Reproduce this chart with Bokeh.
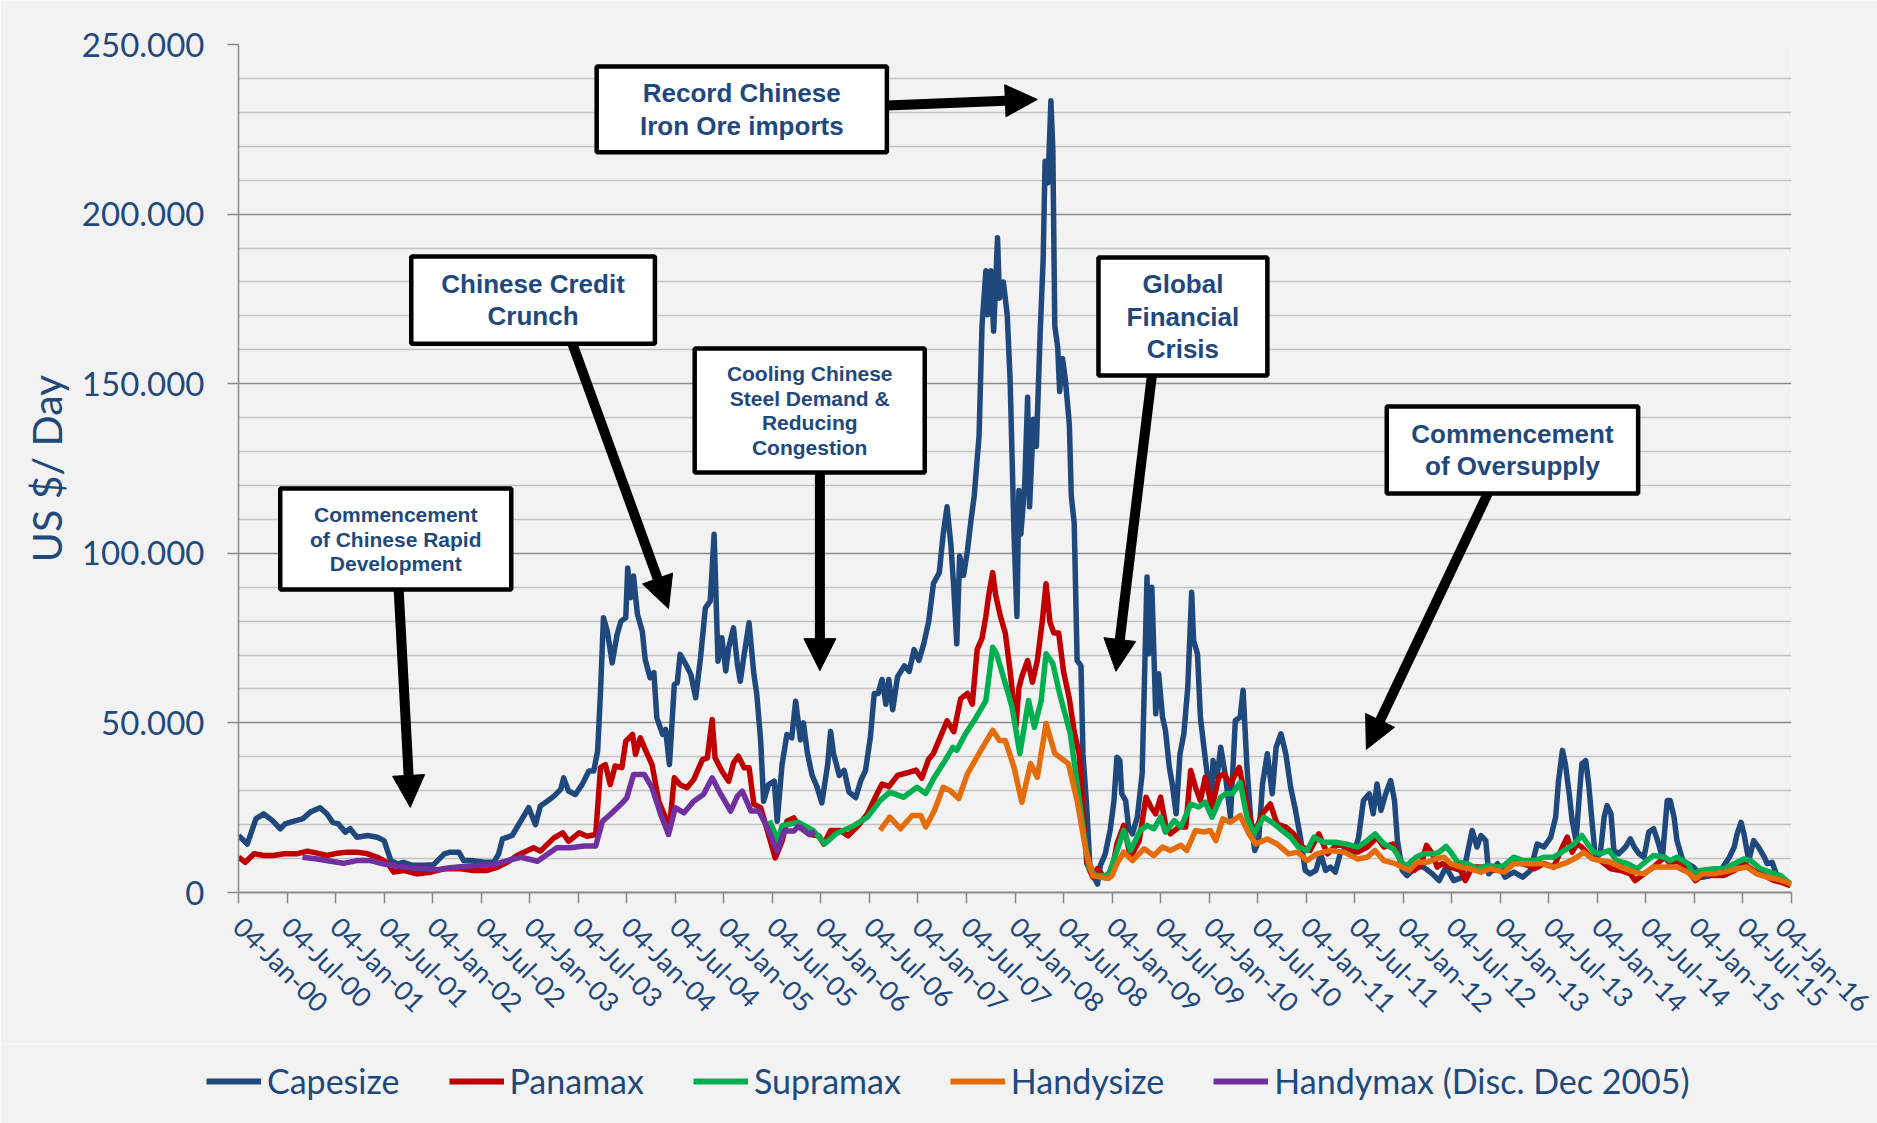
import math
from bokeh.plotting import figure
from bokeh.layouts import column
from bokeh.models import Range1d, FixedTicker, Legend, LegendItem, Arrow, NormalHead, ColumnDataSource
from bokeh.core.properties import value
from bokeh.embed import file_html
from bokeh.resources import INLINE

# ---------------- data (time in decimal years, rates in US$ '000 / day) ----------------
x_tick_labels = ["04-Jan-00", "04-Jul-00", "04-Jan-01", "04-Jul-01", "04-Jan-02", "04-Jul-02",
                 "04-Jan-03", "04-Jul-03", "04-Jan-04", "04-Jul-04", "04-Jan-05", "04-Jul-05",
                 "04-Jan-06", "04-Jul-06", "04-Jan-07", "04-Jul-07", "04-Jan-08", "04-Jul-08",
                 "04-Jan-09", "04-Jul-09", "04-Jan-10", "04-Jul-10", "04-Jan-11", "04-Jul-11",
                 "04-Jan-12", "04-Jul-12", "04-Jan-13", "04-Jul-13", "04-Jan-14", "04-Jul-14",
                 "04-Jan-15", "04-Jul-15", "04-Jan-16"]
y_tick_values = [0, 50000, 100000, 150000, 200000, 250000]
y_tick_labels = ["0", "50.000", "100.000", "150.000", "200.000", "250.000"]

capesize_t = [
    2000.00, 2000.09, 2000.18, 2000.26, 2000.35, 2000.43, 2000.48, 2000.59, 2000.66, 2000.74, 2000.84, 2000.91, 2000.97,
    2001.03, 2001.10, 2001.15, 2001.22, 2001.33, 2001.43, 2001.50, 2001.57, 2001.64, 2001.70, 2001.79, 2001.91,
    2002.01, 2002.12, 2002.18, 2002.27, 2002.32, 2002.42, 2002.53, 2002.63, 2002.68, 2002.72, 2002.82, 2002.89,
    2002.99, 2003.06, 2003.11, 2003.18, 2003.25, 2003.32, 2003.35, 2003.40, 2003.47, 2003.54, 2003.61, 2003.66, 2003.70, 2003.73, 2003.76, 2003.80, 2003.85, 2003.90, 2003.94, 2003.99,
    2004.01, 2004.04, 2004.07, 2004.11, 2004.16, 2004.19, 2004.24, 2004.28, 2004.31, 2004.37, 2004.40, 2004.44, 2004.49, 2004.52, 2004.55, 2004.61, 2004.66, 2004.71, 2004.76, 2004.81, 2004.86, 2004.90, 2004.94, 2004.98,
    2005.02, 2005.05, 2005.10, 2005.14, 2005.17, 2005.21, 2005.26, 2005.31, 2005.34, 2005.38, 2005.41, 2005.46, 2005.52, 2005.55, 2005.60, 2005.65, 2005.70, 2005.74, 2005.79, 2005.82, 2005.86, 2005.91, 2005.96,
    2006.01, 2006.07, 2006.10, 2006.13, 2006.19, 2006.24, 2006.29, 2006.36, 2006.41, 2006.46, 2006.51, 2006.55, 2006.59, 2006.63, 2006.67, 2006.70, 2006.74, 2006.79, 2006.86, 2006.91, 2006.96,
    2007.01, 2007.06, 2007.11, 2007.16, 2007.22, 2007.26, 2007.30, 2007.34, 2007.37, 2007.40, 2007.43, 2007.47, 2007.51, 2007.55, 2007.58, 2007.63, 2007.66, 2007.70, 2007.72, 2007.75, 2007.78, 2007.82, 2007.84, 2007.88, 2007.92, 2007.95, 2007.99,
    2008.02, 2008.04, 2008.06, 2008.10, 2008.13, 2008.15, 2008.19, 2008.22, 2008.26, 2008.29, 2008.31, 2008.34, 2008.37, 2008.39, 2008.41, 2008.44, 2008.46, 2008.49, 2008.52, 2008.56, 2008.58, 2008.61, 2008.64, 2008.68, 2008.70, 2008.74, 2008.77, 2008.81, 2008.85, 2008.88, 2008.93, 2008.98,
    2009.02, 2009.05, 2009.08, 2009.10, 2009.14, 2009.17, 2009.21, 2009.26, 2009.31, 2009.36, 2009.38, 2009.41, 2009.45, 2009.48, 2009.52, 2009.55, 2009.59, 2009.62, 2009.66, 2009.70, 2009.74, 2009.78, 2009.82, 2009.84, 2009.88, 2009.91, 2009.95, 2009.98,
    2010.02, 2010.04, 2010.08, 2010.12, 2010.17, 2010.22, 2010.27, 2010.32, 2010.35, 2010.39, 2010.43, 2010.47, 2010.51, 2010.55, 2010.60, 2010.65, 2010.69, 2010.74, 2010.79, 2010.84, 2010.89, 2010.94, 2010.99,
    2011.04, 2011.10, 2011.15, 2011.20, 2011.25, 2011.30, 2011.35, 2011.42, 2011.49, 2011.54, 2011.59, 2011.65, 2011.69, 2011.73, 2011.77, 2011.82, 2011.87, 2011.91, 2011.94, 2011.99,
    2012.04, 2012.13, 2012.21, 2012.30, 2012.37, 2012.44, 2012.52, 2012.61, 2012.66, 2012.71, 2012.76, 2012.80, 2012.85, 2012.88, 2012.97,
    2013.05, 2013.14, 2013.23, 2013.31, 2013.38, 2013.45, 2013.52, 2013.57, 2013.60, 2013.64, 2013.67, 2013.71, 2013.74, 2013.78, 2013.81, 2013.84, 2013.88, 2013.91, 2013.95, 2013.98,
    2014.03, 2014.07, 2014.10, 2014.14, 2014.17, 2014.22, 2014.29, 2014.34, 2014.38, 2014.43, 2014.48, 2014.53, 2014.58, 2014.62, 2014.67, 2014.72, 2014.75, 2014.79, 2014.82, 2014.88, 2014.93, 2014.99,
    2015.08, 2015.17, 2015.27, 2015.36, 2015.41, 2015.44, 2015.48, 2015.51, 2015.56, 2015.61, 2015.66, 2015.72, 2015.75, 2015.80, 2015.85, 2015.92, 2015.99]
capesize_k = [
    16.8, 14.3, 21.7, 23.2, 21.2, 18.8, 20.2, 21.2, 21.7, 23.7, 25.0, 23.2, 20.7,
    20.2, 17.8, 18.8, 16.3, 16.8, 16.3, 15.3, 9.4, 8.4, 8.9, 8.0, 8.0,
    8.2, 11.4, 11.9, 11.9, 9.4, 9.4, 8.9, 8.9, 11.4, 15.8, 16.8, 20.2,
    25.0, 20.0, 25.5, 26.9, 28.4, 30.4, 33.8, 29.9, 28.9, 31.8, 35.8, 35.8, 41.7, 59.4, 81.0, 77.0, 67.7, 76.0, 80.0, 81.0,
    95.7, 86.9, 93.3, 82.0, 77.0, 68.7, 63.3, 64.8, 51.5, 46.6, 48.1, 37.7, 61.3, 61.8, 70.2, 67.2, 64.3, 57.4, 69.2, 83.9, 85.9, 105.6, 68.2, 75.1,
    65.3, 72.2, 78.0, 67.2, 62.3, 70.2, 79.5, 64.3, 58.4, 44.6, 26.9, 31.8, 32.8, 21.0, 37.7, 46.6, 45.6, 56.4, 45.0, 50.0, 41.3, 34.5, 31.2,
    26.4, 37.7, 47.5, 41.0, 34.5, 36.0, 29.6, 28.0, 32.9, 36.0, 45.8, 58.7, 58.7, 62.8, 55.5, 62.8, 53.9, 63.6, 66.8, 65.2, 71.6,
    68.4, 73.3, 79.8, 91.1, 94.3, 105.6, 113.7, 102.4, 89.5, 73.3, 99.2, 93.5, 100.8, 110.5, 116.9, 134.7, 167.0, 183.3, 170.3, 183.3, 165.5, 193.0, 175.2, 180.0, 170.3, 150.9, 105.6,
    81.4, 118.5, 105.6, 120.2, 146.0, 113.7, 139.5, 131.5, 165.5, 186.5, 215.6, 209.2, 233.4, 218.8, 167.0, 160.7, 147.7, 157.4, 150.9, 138.0, 116.9, 108.9, 68.4, 66.8, 41.0, 24.8, 8.6, 4.6, 2.5, 8.0, 11.4, 18.3,
    27.1, 39.9, 38.9, 29.1, 27.1, 19.3, 17.3, 22.2, 35.0, 93.0, 70.4, 90.0, 52.7, 64.5, 51.7, 47.8, 36.9, 32.0, 23.2, 40.9, 46.8, 60.5, 88.5, 74.3, 70.4, 51.7, 41.9, 35.0,
    24.2, 38.9, 34.0, 42.8, 34.0, 22.2, 50.7, 51.7, 59.6, 36.9, 21.2, 12.4, 15.3, 32.0, 40.9, 29.1, 42.8, 46.8, 40.9, 31.0, 24.2, 16.3, 6.5,
    5.5, 6.5, 11.4, 6.5, 7.5, 6.0, 11.4, 13.4, 11.4, 16.3, 27.1, 29.1, 23.2, 32.0, 24.2, 29.1, 33.0, 27.1, 15.3, 6.5,
    5.0, 7.5, 7.5, 5.5, 3.5, 7.5, 3.5, 4.5, 11.4, 18.3, 13.4, 16.8, 15.3, 5.5, 8.5,
    4.5, 6.0, 4.5, 6.5, 14.3, 13.4, 16.3, 22.2, 33.0, 41.9, 37.9, 29.1, 21.2, 15.3, 27.1, 37.9, 38.9, 32.0, 19.3, 10.4,
    11.4, 22.2, 25.6, 23.2, 12.4, 11.4, 13.4, 15.8, 13.4, 11.4, 10.4, 17.8, 18.8, 15.3, 10.4, 27.1, 27.1, 22.2, 15.3, 9.4, 8.5, 7.5,
    4.5, 5.0, 6.5, 10.4, 13.4, 17.3, 20.7, 17.3, 9.4, 15.3, 13.4, 10.4, 8.5, 8.9, 5.0, 4.0, 2.5]

panamax_t = [
    2000.00, 2000.07, 2000.16, 2000.26, 2000.36, 2000.47, 2000.60, 2000.71, 2000.81, 2000.91,
    2001.02, 2001.12, 2001.22, 2001.33, 2001.43, 2001.53, 2001.60, 2001.70, 2001.84, 2001.98,
    2002.12, 2002.29, 2002.42, 2002.56, 2002.67, 2002.77, 2002.87,
    2003.04, 2003.11, 2003.25, 2003.34, 2003.40, 2003.51, 2003.59, 2003.68, 2003.73, 2003.78, 2003.83, 2003.88, 2003.95, 2003.99,
    2004.06, 2004.09, 2004.14, 2004.19, 2004.26, 2004.33, 2004.40, 2004.44, 2004.49, 2004.55, 2004.62, 2004.69, 2004.78, 2004.83, 2004.88, 2004.91, 2004.98,
    2005.05, 2005.10, 2005.15, 2005.21, 2005.26, 2005.31, 2005.38, 2005.45, 2005.53, 2005.60, 2005.65, 2005.72, 2005.79, 2005.89, 2005.98,
    2006.03, 2006.10, 2006.20, 2006.28, 2006.39, 2006.48, 2006.56, 2006.63, 2006.70, 2006.79, 2006.89, 2006.98,
    2007.04, 2007.11, 2007.16, 2007.23, 2007.30, 2007.37, 2007.44, 2007.51, 2007.56, 2007.61, 2007.66, 2007.70, 2007.73, 2007.77, 2007.80, 2007.85, 2007.90, 2007.95,
    2008.01, 2008.04, 2008.07, 2008.13, 2008.18, 2008.23, 2008.28, 2008.32, 2008.36, 2008.40, 2008.45, 2008.50, 2008.56, 2008.61, 2008.66, 2008.70, 2008.74, 2008.80, 2008.85, 2008.92,
    2009.00, 2009.05, 2009.12, 2009.19, 2009.28, 2009.35, 2009.40, 2009.45, 2009.50, 2009.55, 2009.60, 2009.69, 2009.76, 2009.81, 2009.86, 2009.91, 2009.96,
    2010.03, 2010.10, 2010.15, 2010.22, 2010.31, 2010.38, 2010.46, 2010.55, 2010.63, 2010.70, 2010.79, 2010.87, 2010.96,
    2011.04, 2011.13, 2011.22, 2011.32, 2011.42, 2011.53, 2011.63, 2011.73, 2011.80, 2011.90, 2011.97,
    2012.04, 2012.11, 2012.18, 2012.24, 2012.30, 2012.35, 2012.40, 2012.49, 2012.59, 2012.64, 2012.71, 2012.83, 2012.93,
    2013.04, 2013.14, 2013.28, 2013.35, 2013.45, 2013.55, 2013.64, 2013.69, 2013.74, 2013.79, 2013.84, 2013.93,
    2014.03, 2014.14, 2014.24, 2014.34, 2014.39, 2014.48, 2014.58, 2014.69, 2014.75, 2014.82, 2014.93,
    2015.01, 2015.10, 2015.20, 2015.30, 2015.41, 2015.51, 2015.61, 2015.72, 2015.82, 2015.90, 2015.99]
panamax_k = [
    10.4, 8.9, 11.4, 10.9, 10.9, 11.4, 11.4, 12.2, 11.6, 10.9,
    11.6, 11.9, 11.9, 11.4, 10.4, 8.9, 6.0, 6.5, 5.5, 6.0,
    7.0, 7.0, 6.5, 6.5, 7.5, 8.9, 10.9,
    13.2, 12.2, 16.1, 17.6, 15.1, 17.6, 16.6, 17.1, 36.8, 37.7, 31.8, 37.3, 36.8, 44.6,
    46.6, 40.7, 45.6, 42.2, 37.7, 26.9, 22.0, 19.1, 33.8, 31.8, 30.9, 33.3, 39.2, 39.7, 51.0, 39.7, 35.8,
    32.8, 38.2, 40.2, 36.8, 36.8, 26.0, 25.0, 18.1, 10.2, 15.1, 21.0, 22.0, 19.0, 17.1, 16.7,
    14.3, 18.3, 18.3, 16.7, 19.9, 23.2, 28.0, 32.0, 31.2, 34.5, 35.3, 36.1,
    33.7, 39.3, 41.0, 45.8, 50.6, 47.4, 57.1, 58.7, 55.5, 71.6, 74.9, 81.4, 87.8, 94.3, 87.8, 81.4, 76.5, 65.2,
    49.0, 60.3, 63.6, 68.4, 62.0, 68.4, 79.7, 91.0, 79.7, 76.5, 76.5, 65.2, 57.1, 47.4, 41.0, 24.8, 8.6, 4.6, 7.0, 4.5,
    6.5, 14.3, 19.8, 10.4, 15.3, 28.1, 25.2, 23.2, 28.1, 20.2, 17.3, 19.3, 19.3, 36.0, 31.0, 27.1, 34.0,
    25.2, 34.0, 35.0, 32.0, 36.9, 27.1, 17.3, 23.2, 26.1, 20.2, 19.3, 17.3, 13.4,
    12.4, 17.3, 11.4, 14.3, 13.4, 11.9, 13.4, 16.3, 13.4, 14.3, 9.4,
    7.0, 6.5, 8.0, 13.9, 11.4, 7.5, 8.5, 7.5, 6.5, 3.5, 7.5, 7.5, 6.5,
    7.0, 9.4, 8.0, 7.0, 8.5, 7.5, 13.4, 16.3, 11.9, 14.3, 13.4, 10.4,
    9.4, 7.0, 6.5, 5.5, 3.5, 5.5, 7.5, 10.4, 8.5, 9.4, 6.5,
    3.5, 5.5, 5.0, 5.0, 6.5, 8.5, 6.5, 5.0, 3.5, 3.0, 2.0]

supramax_t = [
    2005.47, 2005.56, 2005.60, 2005.77, 2005.92,
    2006.04, 2006.16, 2006.34, 2006.48, 2006.61, 2006.71, 2006.85, 2006.99,
    2007.08, 2007.17, 2007.26, 2007.36, 2007.40, 2007.49, 2007.58, 2007.70, 2007.77, 2007.81, 2007.90, 2007.97,
    2008.05, 2008.14, 2008.20, 2008.27, 2008.32, 2008.39, 2008.46, 2008.57, 2008.64, 2008.71, 2008.76, 2008.83, 2008.96,
    2009.04, 2009.12, 2009.19, 2009.29, 2009.36, 2009.43, 2009.50, 2009.55, 2009.64, 2009.71, 2009.81, 2009.89, 2009.96,
    2010.03, 2010.12, 2010.17, 2010.24, 2010.32, 2010.39, 2010.46, 2010.56, 2010.65, 2010.75, 2010.84, 2010.92,
    2011.01, 2011.08, 2011.18, 2011.30, 2011.41, 2011.53, 2011.63, 2011.71, 2011.80, 2011.90,
    2012.02, 2012.13, 2012.21, 2012.32, 2012.37, 2012.44, 2012.49, 2012.56, 2012.66, 2012.76, 2012.87, 2012.97,
    2013.04, 2013.14, 2013.24, 2013.35, 2013.45, 2013.55, 2013.66, 2013.76, 2013.84, 2013.90, 2013.96,
    2014.03, 2014.12, 2014.20, 2014.31, 2014.41, 2014.51, 2014.58, 2014.69, 2014.75, 2014.82, 2014.93, 2014.99,
    2015.06, 2015.20, 2015.30, 2015.41, 2015.51, 2015.58, 2015.68, 2015.78, 2015.89, 2015.99]
supramax_k = [
    21.2, 15.3, 19.7, 20.7, 18.3,
    14.4, 17.4, 19.7, 22.2, 27.1, 29.6, 28.1, 31.0,
    29.2, 34.0, 38.0, 42.8, 41.9, 46.8, 50.7, 56.6, 72.3, 70.4, 61.6, 54.6,
    41.0, 56.6, 48.7, 56.6, 70.4, 67.5, 58.6, 46.8, 32.1, 17.4, 7.5, 5.0, 5.0,
    11.4, 18.3, 12.4, 18.3, 19.8, 18.8, 22.2, 17.8, 21.2, 19.3, 26.1, 25.2, 26.6,
    22.2, 28.1, 29.1, 29.1, 32.5, 22.2, 17.3, 22.2, 20.7, 18.3, 16.3, 13.4,
    12.4, 16.3, 14.8, 14.8, 14.3, 13.4, 15.3, 17.3, 14.3, 12.9,
    7.5, 10.4, 11.4, 11.4, 11.9, 13.6, 11.9, 8.9, 8.5, 7.0, 8.0, 7.5,
    8.0, 10.4, 9.4, 9.4, 10.4, 10.4, 12.4, 14.3, 16.8, 14.3, 11.9,
    11.4, 12.4, 9.4, 8.5, 7.0, 9.4, 10.9, 10.4, 9.4, 10.4, 8.5, 5.5,
    6.5, 7.0, 7.0, 8.5, 9.9, 9.4, 7.0, 6.0, 5.0, 2.5]

handysize_t = [
    2006.61, 2006.71, 2006.82, 2006.94,
    2007.03, 2007.08, 2007.17, 2007.26, 2007.33, 2007.42, 2007.51, 2007.63, 2007.77, 2007.84, 2007.90, 2007.99,
    2008.07, 2008.16, 2008.23, 2008.32, 2008.41, 2008.55, 2008.64, 2008.73, 2008.80, 2008.96,
    2009.00, 2009.05, 2009.12, 2009.21, 2009.33, 2009.43, 2009.52, 2009.60, 2009.71, 2009.77, 2009.86, 2009.95,
    2010.01, 2010.07, 2010.14, 2010.22, 2010.32, 2010.41, 2010.48, 2010.60, 2010.70, 2010.82, 2010.91,
    2011.01, 2011.11, 2011.25, 2011.39, 2011.53, 2011.63, 2011.71, 2011.80, 2011.92,
    2012.06, 2012.14, 2012.25, 2012.33, 2012.42, 2012.49, 2012.59, 2012.69, 2012.80, 2012.90,
    2013.04, 2013.14, 2013.28, 2013.42, 2013.55, 2013.69, 2013.79, 2013.86, 2013.95,
    2014.03, 2014.14, 2014.24, 2014.38, 2014.48, 2014.58, 2014.72, 2014.82, 2014.93,
    2015.01, 2015.08, 2015.20, 2015.30, 2015.44, 2015.54, 2015.64, 2015.75, 2015.85, 2015.96, 2016.00]
handysize_k = [
    18.3, 22.2, 18.8, 22.7,
    22.7, 19.3, 24.2, 31.0, 30.1, 27.7, 35.0, 41.0, 47.8, 44.8, 44.8, 36.9,
    26.6, 38.0, 34.0, 49.8, 41.0, 38.0, 27.1, 12.4, 5.0, 4.1,
    5.0, 8.5, 11.9, 9.4, 12.9, 10.9, 13.4, 12.4, 13.9, 12.4, 18.3, 17.8,
    18.3, 15.3, 21.7, 20.7, 22.7, 17.3, 14.3, 15.8, 14.3, 11.4, 11.9,
    9.4, 11.4, 12.4, 11.9, 9.9, 10.4, 12.4, 9.4, 8.5,
    6.5, 8.9, 8.9, 9.9, 10.4, 8.5, 7.5, 7.0, 6.0, 7.0,
    6.0, 8.5, 8.5, 8.5, 7.5, 8.9, 10.4, 11.9, 9.9,
    9.4, 8.9, 7.5, 6.0, 5.5, 7.5, 7.5, 7.5, 6.0,
    4.0, 5.5, 5.5, 6.0, 7.0, 7.5, 5.5, 4.5, 4.0, 3.0, 2.4]

handymax_t = [
    2000.66, 2000.81, 2000.95, 2001.08, 2001.22, 2001.36, 2001.50, 2001.64, 2001.77, 2001.91,
    2002.05, 2002.18, 2002.32, 2002.49, 2002.63, 2002.77, 2002.91,
    2003.08, 2003.18, 2003.28, 2003.42, 2003.56, 2003.68, 2003.75, 2003.83, 2003.94,
    2004.00, 2004.07, 2004.18, 2004.26, 2004.35, 2004.43, 2004.50, 2004.59, 2004.69, 2004.79, 2004.88, 2004.97,
    2005.07, 2005.14, 2005.19, 2005.28, 2005.36, 2005.45, 2005.55, 2005.62, 2005.72, 2005.77, 2005.88, 2005.94]
handymax_k = [
    10.4, 9.9, 9.2, 8.6, 9.4, 9.4, 8.4, 7.7, 7.3, 7.0,
    6.7, 7.3, 7.7, 8.0, 8.2, 9.4, 10.4,
    9.2, 11.2, 13.2, 13.2, 13.7, 13.7, 21.0, 23.0, 26.0,
    27.9, 34.8, 34.8, 30.9, 23.0, 17.1, 25.0, 23.5, 26.9, 28.9, 33.8, 28.9,
    24.0, 28.4, 29.9, 24.0, 24.0, 19.1, 12.2, 18.1, 18.1, 19.6, 17.1, 18.0]

series_names = ["Capesize", "Panamax", "Supramax", "Handysize", "Handymax (Disc. Dec 2005)"]
series_colors = ["#1F497D", "#C00000", "#00B050", "#E46C0A", "#7030A0"]

# annotation boxes (data coordinates: year, US$/day)
box_text = ["Record Chinese\nIron Ore imports", "Chinese Credit\nCrunch",
            "Cooling Chinese\nSteel Demand &\nReducing\nCongestion", "Global\nFinancial\nCrisis",
            "Commencement\nof Oversupply", "Commencement\nof Chinese Rapid\nDevelopment"]
box_font = ["26px", "26px", "21px", "26px", "26px", "21px"]
box_left = [2003.69, 2001.78, 2004.70, 2008.86, 2011.83, 2000.43]
box_right = [2006.68, 2004.29, 2007.07, 2010.60, 2014.42, 2002.81]
box_bottom = [218200, 161800, 123800, 152400, 117600, 89300]
box_top = [243500, 187500, 160400, 187200, 143300, 119100]
arrow_x0 = [2006.68, 2003.44, 2005.99, 2009.41, 2012.87, 2001.65]
arrow_y0 = [232000, 161800, 123800, 152400, 117600, 89300]
arrow_x1 = [2008.23, 2004.43, 2005.99, 2009.04, 2011.62, 2001.77]
arrow_y1 = [233800, 83700, 65400, 65200, 42200, 25100]

# ---------------- figure ----------------
def label_to_year(s):
    d, m, y = s.split("-")
    return 2000 + int(y) + (0.0 if m == "Jan" else 0.5)

x_tick_values = [label_to_year(s) for s in x_tick_labels]

TEXT_BLUE = "#1F497D"
GRID_MAJOR = "#8A8A8A"
GRID_MINOR = "#C3C3C3"
BG = "#F2F2F2"
W = 1877
LEG_H = 80

p = figure(width=W, height=1123 - LEG_H, output_backend="svg", toolbar_location=None,
           x_range=Range1d(x_tick_values[0], x_tick_values[-1]), y_range=Range1d(0, 250000))
p.min_border_left = 238
p.min_border_right = 86
p.min_border_top = 44
p.min_border_bottom = 1123 - LEG_H - 892
p.background_fill_color = BG
p.border_fill_color = BG
p.outline_line_color = None

p.xgrid.grid_line_color = None
p.ygrid.grid_line_color = GRID_MAJOR
p.ygrid.grid_line_width = 1.5
p.ygrid.minor_grid_line_color = GRID_MINOR
p.ygrid.minor_grid_line_width = 1.5

minor_y = [v for v in range(10000, 250000, 10000) if v % 50000 != 0]
yax = p.yaxis[0]
yax.ticker = FixedTicker(ticks=y_tick_values, minor_ticks=minor_y)
yax.major_label_overrides = {v: s for v, s in zip(y_tick_values, y_tick_labels)}
yax.major_label_text_font = "Lato"
yax.major_label_text_font_size = "33px"
yax.major_label_text_color = TEXT_BLUE
yax.major_label_standoff = 23
yax.major_tick_out = 11
yax.major_tick_in = 0
yax.minor_tick_out = 0
yax.minor_tick_in = 0
yax.axis_line_color = GRID_MAJOR
yax.axis_line_width = 1.5
yax.major_tick_line_color = GRID_MAJOR
yax.major_tick_line_width = 1.5
yax.axis_label = "US $/ Day"
yax.axis_label_text_font = "Lato"
yax.axis_label_text_font_size = "41px"
yax.axis_label_text_font_style = "normal"
yax.axis_label_text_color = TEXT_BLUE
yax.axis_label_standoff = 8

xax = p.xaxis[0]
xax.ticker = FixedTicker(ticks=x_tick_values, minor_ticks=[])
xax.major_label_overrides = {v: s for v, s in zip(x_tick_values, x_tick_labels)}
xax.major_label_orientation = -math.pi / 4
xax.major_label_text_font = "Lato"
xax.major_label_text_font_size = "27px"
xax.major_label_text_color = TEXT_BLUE
xax.major_label_standoff = 18
xax.major_tick_out = 11
xax.major_tick_in = 0
xax.minor_tick_out = 0
xax.axis_line_color = GRID_MAJOR
xax.axis_line_width = 2
xax.major_tick_line_color = GRID_MAJOR
xax.major_tick_line_width = 1.5

all_t = [capesize_t, panamax_t, supramax_t, handysize_t, handymax_t]
all_k = [capesize_k, panamax_k, supramax_k, handysize_k, handymax_k]
for t, k, name, col in zip(all_t, all_k, series_names, series_colors):
    assert len(t) == len(k), name
    p.line(t, [v * 1000 for v in k], line_color=col, line_width=5.5, line_join="round")

# annotation boxes
p.quad(left=box_left, right=box_right, bottom=box_bottom, top=box_top,
       fill_color="white", line_color="black", line_width=4.5)
src = ColumnDataSource(dict(
    x=[(a + b) / 2 for a, b in zip(box_left, box_right)],
    y=[(a + b) / 2 for a, b in zip(box_bottom, box_top)],
    text=box_text, size=box_font))
p.text(x="x", y="y", text="text", source=src, text_font=value("Liberation Sans"),
       text_font_style="bold", text_font_size="size", text_color=TEXT_BLUE,
       text_align="center", text_baseline="middle", text_line_height=1.08)

for x0, y0, x1, y1 in zip(arrow_x0, arrow_y0, arrow_x1, arrow_y1):
    p.add_layout(Arrow(end=NormalHead(size=32, fill_color="black", line_color="black", line_width=1),
                       x_start=x0, y_start=y0, x_end=x1, y_end=y1,
                       line_color="black", line_width=10))

# ---------------- legend strip below the chart ----------------
leg = figure(width=W, height=LEG_H, output_backend="svg", toolbar_location=None,
             x_range=Range1d(0, 1), y_range=Range1d(0, 1), min_border=0)
leg.background_fill_color = BG
leg.border_fill_color = BG
leg.outline_line_color = None
leg.axis.visible = False
leg.grid.visible = False
# legend-only renderers (their points lie outside the visible range)
leg_renderers = [leg.line([-5, -4], [-5, -4], line_color=col, line_width=6) for col in series_colors]
legend = Legend(items=[LegendItem(label=n, renderers=[r]) for n, r in zip(series_names, leg_renderers)],
                orientation="horizontal", location=(206, 22))
legend.label_text_font = "Lato"
legend.label_text_font_size = "34px"
legend.label_text_color = TEXT_BLUE
legend.glyph_width = 55
legend.glyph_height = 30
legend.label_standoff = 6
legend.spacing = 49
legend.padding = 0
legend.margin = 0
legend.background_fill_alpha = 0
legend.border_line_alpha = 0
leg.add_layout(legend)

open("out.html", "w").write(file_html(column(p, column(leg, spacing=0), spacing=0), INLINE))
